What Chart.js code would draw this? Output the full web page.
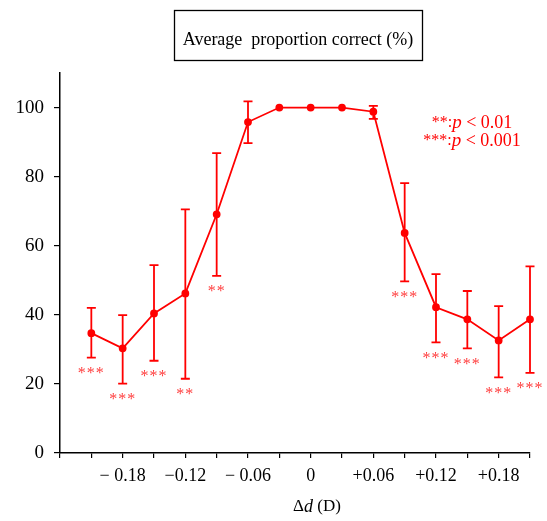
<!DOCTYPE html>
<html><head><meta charset="utf-8">
<script src="https://cdn.jsdelivr.net/npm/chart.js@4.4.1/dist/chart.umd.min.js"></script>
<style>html,body{margin:0;padding:0;background:#fff}#wrap{width:547px;height:521px;position:relative}</style>
</head><body><div id="wrap"><canvas id="c" width="547" height="521"></canvas></div>
<script>
const deltaD = [-0.21,-0.18,-0.15,-0.12,-0.09,-0.06,-0.03,0,0.03,0.06,0.09,0.12,0.15,0.18,0.21];
const meanCorrect = [34.7,30.3,40.4,46.2,69.1,95.8,100,100,100,98.8,63.7,42.2,38.7,32.6,38.7];
const errUpper = [42.0,39.9,54.4,70.5,86.8,101.8,100,100,100,100.5,78.1,51.8,46.9,42.5,54.0];
const errLower = [27.6,20.1,26.7,21.5,51.3,89.7,100,100,100,96.7,49.7,32.0,30.3,21.9,23.2];
const significance = ['***','***','***','**','**','','','','','','***','***','***','***','***'];
const xTickValues = [-0.24,-0.21,-0.18,-0.15,-0.12,-0.09,-0.06,-0.03,0,0.03,0.06,0.09,0.12,0.15,0.18,0.21];
const xTickLabels = ['','','\u2212 0.18','','\u22120.12','','\u2212 0.06','','0','','+0.06','','+0.12','','+0.18',''];
const yTickValues = [0,20,40,60,80,100];
const chartTitle = 'Average  proportion correct (%)';
const legendLines = [['**:','p',' < 0.01'],['***:','p',' < 0.001']];
const xTitleParts = ['\u0394','d',' (D)'];

const RED = '#ff0000';
const SERIF = '"Liberation Serif", "Times New Roman", serif';

const decorations = {
  id: 'decorations',
  beforeDatasetsDraw(chart) {
    const {ctx, scales:{x, y}} = chart;
    ctx.save();
    ctx.strokeStyle = RED;
    ctx.lineWidth = 1.8;
    for (let i = 0; i < deltaD.length; i++) {
      if (errUpper[i] === errLower[i]) continue;
      const px = x.getPixelForValue(deltaD[i]);
      const yt = y.getPixelForValue(errUpper[i]);
      const yb = y.getPixelForValue(errLower[i]);
      ctx.beginPath();
      ctx.moveTo(px, yt); ctx.lineTo(px, yb);
      ctx.moveTo(px - 4.5, yt); ctx.lineTo(px + 4.5, yt);
      ctx.moveTo(px - 4.5, yb); ctx.lineTo(px + 4.5, yb);
      ctx.stroke();
    }
    ctx.restore();
  },
  afterDraw(chart) {
    const {ctx, scales:{x, y}} = chart;
    ctx.save();
    // significance stars
    ctx.fillStyle = '#ff3c3c';
    ctx.font = '16px ' + SERIF;
    ctx.textAlign = 'center';
    ctx.textBaseline = 'middle';
    if ('letterSpacing' in ctx) ctx.letterSpacing = '1px';
    for (let i = 0; i < deltaD.length; i++) {
      if (!significance[i]) continue;
      const px = x.getPixelForValue(deltaD[i]);
      const yb = y.getPixelForValue(errLower[i]);
      ctx.fillText(significance[i], px, yb + 16);
    }
    if ('letterSpacing' in ctx) ctx.letterSpacing = '0px';
    // title box
    ctx.strokeStyle = '#000';
    ctx.lineWidth = 1.3;
    ctx.strokeRect(174.5, 10.5, 248, 50);
    ctx.fillStyle = '#000';
    ctx.font = '18px ' + SERIF;
    ctx.textAlign = 'center';
    ctx.fillText(chartTitle, 298, 40);
    // legend lines
    const drawParts = (parts, cx, cy, color, sizes) => {
      const fonts = [sizes[0] + 'px ' + SERIF, 'italic ' + sizes[1] + 'px ' + SERIF, sizes[2] + 'px ' + SERIF];
      let widths = parts.map((p, k) => { ctx.font = fonts[k]; return ctx.measureText(p).width; });
      let total = widths.reduce((a, b) => a + b, 0);
      let sx = cx - total / 2;
      ctx.textAlign = 'left';
      ctx.fillStyle = color;
      parts.forEach((p, k) => { ctx.font = fonts[k]; ctx.fillText(p, sx, cy); sx += widths[k]; });
    };
    ctx.textBaseline = 'middle';
    drawParts(legendLines[0], 472, 123, RED, [16, 19, 18]);
    drawParts(legendLines[1], 472, 141, RED, [16, 19, 18]);
    drawParts(xTitleParts, 317, 507, '#000', [17, 18, 17]);
    ctx.restore();
  }
};

new Chart(document.getElementById('c'), {
  type: 'line',
  data: {
    datasets: [{
      data: deltaD.map((d, i) => ({x: d, y: meanCorrect[i]})),
      borderColor: RED,
      backgroundColor: RED,
      borderWidth: 1.8,
      pointRadius: 3,
      pointHoverRadius: 3,
      tension: 0,
      clip: false
    }]
  },
  options: {
    responsive: false,
    animation: false,
    events: [],
    layout: { padding: { left: 0, top: 73, right: 17, bottom: 0 } },
    plugins: { legend: { display: false }, tooltip: { enabled: false }, title: { display: false } },
    scales: {
      x: {
        type: 'linear',
        min: -0.24, max: 0.21,
        afterBuildTicks: s => { s.ticks = xTickValues.map(v => ({value: v})); },
        afterFit: s => { s.height = 68; },
        grid: { display: true, drawOnChartArea: false, drawTicks: true, tickLength: 5, color: '#000', lineWidth: 1.2 },
        border: { display: true, color: '#000', width: 1.5 },
        ticks: {
          autoSkip: false, maxRotation: 0, padding: 7,
          color: '#000', font: { family: SERIF, size: 18 },
          callback: (v, i) => xTickLabels[i]
        }
      },
      y: {
        min: 0, max: 110,
        afterBuildTicks: s => { s.ticks = yTickValues.map(v => ({value: v})); },
        afterFit: s => { s.width = 60; },
        grid: { display: true, drawOnChartArea: false, drawTicks: true, tickLength: 6, color: '#000', lineWidth: 1.2 },
        border: { display: true, color: '#000', width: 1.5 },
        ticks: {
          padding: 10, color: '#000', font: { family: SERIF, size: 19 },
          callback: v => String(v)
        }
      }
    }
  },
  plugins: [decorations]
});
</script></body></html>
